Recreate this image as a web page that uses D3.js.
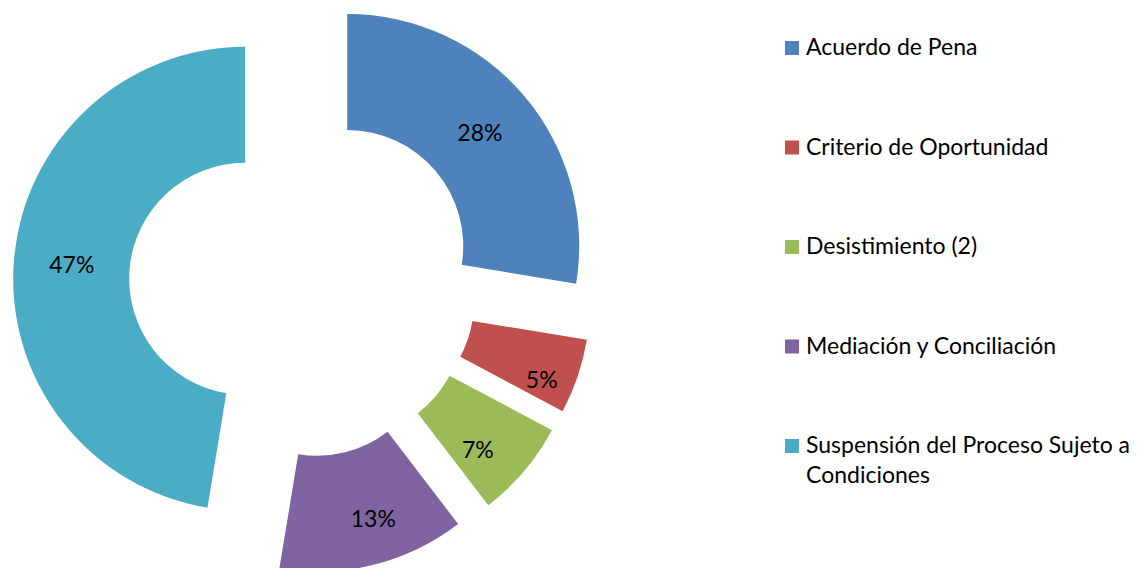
<!DOCTYPE html>
<html>
<head>
<meta charset="utf-8">
<script src="https://cdn.jsdelivr.net/npm/d3@7"></script>
<style>
  html, body { margin: 0; padding: 0; background: #fff; }
  svg { display: block; font-family: Lato, "Open Sans", sans-serif; }
</style>
</head>
<body>
<div id="chart"></div>
<script>
const categories = [
  'Acuerdo de Pena',
  'Criterio de Oportunidad',
  'Desistimiento (2)',
  'Mediación y Conciliación',
  'Suspensión del Proceso Sujeto a Condiciones'
];
const shares = [27.6, 5.2, 6.8, 13.0, 47.4];
const colors = ['#4F81BD', '#C0504D', '#9BBB59', '#8064A2', '#4BACC6'];

const width = 1144, height = 568;
const cx = 303, cy = 283.5, outerR = 232, innerR = 116, explode = 58;
const fontSize = 23;
// the source moved the labels of the small slices by hand
const labelNudge = [[0, 0], [19, 22], [-2, 16], [14, 10], [0, 0]];

const svg = d3.select('#chart')
  .append('svg')
  .attr('width', width)
  .attr('height', height)

const pie = d3.pie().sort(null).value(d => d)
const arc = d3.arc().innerRadius(innerR).outerRadius(outerR)
const pct = d3.format('.0%')

const slices = pie(shares)

const offset = (d) => {
  const a = (d.startAngle + d.endAngle) / 2;
  return [Math.sin(a) * explode, -Math.cos(a) * explode];
};

const g = svg.append('g').attr('transform', `translate(${cx},${cy})`)

const slice = g.selectAll('.slice')
  .data(slices)
  .enter()
  .append('g')
  .attr('class', 'slice')
  .attr('transform', d => `translate(${offset(d)})`)

slice.append('path')
  .attr('d', arc)
  .attr('fill', (d, i) => colors[i])

slice.append('text')
  .attr('transform', (d, i) => {
    const [x, y] = arc.centroid(d);
    return `translate(${x + labelNudge[i][0]},${y + labelNudge[i][1]})`;
  })
  .attr('text-anchor', 'middle')
  .attr('dy', '0.35em')
  .attr('font-size', fontSize)
  .attr('fill', '#000')
  .text(d => pct(d.value / d3.sum(shares)))

// legend
const legendY = d3.scaleLinear().domain([0, 4]).range([48, 446])
const legend = svg.append('g')
  .selectAll('.item')
  .data(categories)
  .enter()
  .append('g')
  .attr('class', 'item')
  .attr('transform', (d, i) => `translate(785,${legendY(i)})`)

legend.append('rect')
  .attr('x', 0).attr('y', -7)
  .attr('width', 14).attr('height', 14)
  .attr('fill', (d, i) => colors[i])

legend.each(function (name) {
  const item = d3.select(this);
  const text = item.append('text')
    .attr('x', 21).attr('y', 7)
    .attr('font-size', fontSize)
    .attr('fill', '#000');
  const maxW = width - 806 - 4;
  const words = name.split(' ');
  let line = [];
  let tspan = text.append('tspan').attr('x', 21).attr('dy', 0);
  words.forEach(w => {
    line.push(w);
    tspan.text(line.join(' '));
    if (tspan.node().getComputedTextLength() > maxW && line.length > 1) {
      line.pop();
      tspan.text(line.join(' '));
      line = [w];
      tspan = text.append('tspan').attr('x', 21).attr('dy', 30).text(w);
    }
  });
});
</script>
</body>
</html>
